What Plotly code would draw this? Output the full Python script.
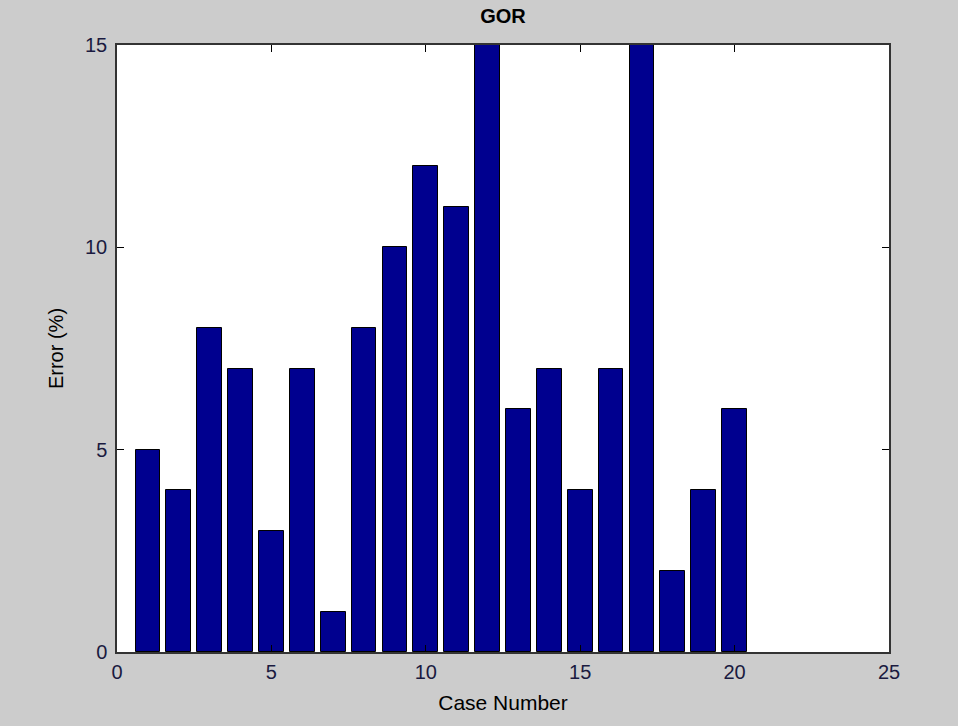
import plotly.graph_objects as go

cases = list(range(1, 21))
errors = [5, 4, 8, 7, 3, 7, 1, 8, 10, 12, 11, 16, 6, 7, 4, 7, 16, 2, 4, 6]
x_ticks = [0, 5, 10, 15, 20, 25]
y_ticks = [0, 5, 10, 15]

fig = go.Figure()
fig.add_trace(go.Bar(
    x=cases, y=errors, width=0.8,
    marker=dict(color="#00008F", line=dict(color="black", width=1)),
))

font = "Liberation Sans, Arial, sans-serif"
fig.update_layout(
    width=958, height=726,
    margin=dict(l=117, r=69, t=45, b=74),
    paper_bgcolor="#CCCCCC", plot_bgcolor="white",
    showlegend=False,
    font=dict(family=font, size=20, color="black"),
    title=dict(text="<b>GOR</b>", x=0.5, xref="paper", xanchor="center",
               y=1 - 16 / 726, yref="container", yanchor="middle",
               font=dict(size=20, family=font, color="black")),
    bargap=0,
)
fig.update_xaxes(range=[0, 25], tickvals=x_ticks, ticks="inside", ticklen=7,
                 tickcolor="black", showline=True, linecolor="#333333", linewidth=1.5,
                 mirror="ticks", showgrid=False, zeroline=False,
                 tickfont=dict(size=20, color="#1a1a40"),
                 title=dict(text="Case Number", standoff=14, font=dict(size=21)),
                 ticklabelstandoff=1)
fig.update_yaxes(range=[0, 15], tickvals=y_ticks, ticks="inside", ticklen=7,
                 tickcolor="black", showline=True, linecolor="#333333", linewidth=1.5,
                 mirror="ticks", showgrid=False, zeroline=False,
                 tickfont=dict(size=20, color="#1a1a40"),
                 title=dict(text="Error (%)", standoff=16, font=dict(size=20)),
                 ticklabelstandoff=4)

fig.write_html("out.html")
